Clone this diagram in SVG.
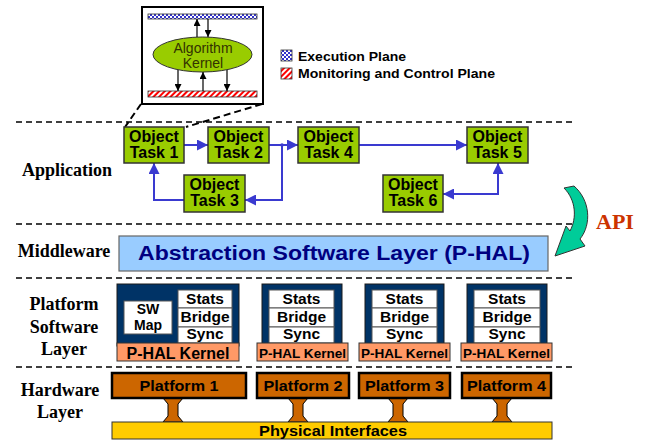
<svg xmlns="http://www.w3.org/2000/svg" width="645" height="444" viewBox="0 0 645 444">
  <defs>
    <pattern id="checker" width="4" height="4" patternUnits="userSpaceOnUse">
      <rect width="4" height="4" fill="#ffffff"/>
      <rect width="2" height="2" fill="#3333cc"/>
      <rect x="2" y="2" width="2" height="2" fill="#3333cc"/>
    </pattern>
    <pattern id="hatch" width="4" height="4" patternUnits="userSpaceOnUse" patternTransform="rotate(45)">
      <rect width="4" height="4" fill="#ffffff"/>
      <rect width="2" height="4" fill="#ff0000"/>
    </pattern>
    <marker id="blueHead" viewBox="0 0 10 10" refX="10" refY="5" markerWidth="11" markerHeight="11" markerUnits="userSpaceOnUse" orient="auto-start-reverse">
      <path d="M0,0 L10,5 L0,10 z" fill="#3a3ad0"/>
    </marker>
    <marker id="blackHead" viewBox="0 0 10 10" refX="10" refY="5" markerWidth="7" markerHeight="7" markerUnits="userSpaceOnUse" orient="auto-start-reverse">
      <path d="M0,0 L10,5 L0,10 z" fill="#000000"/>
    </marker>
    <style>
      .sep { stroke:#000; stroke-width:1.5; stroke-dasharray:6 4; fill:none; }
      .layer { font-family:"Liberation Serif","Times New Roman",serif; font-weight:bold; font-size:18px; fill:#000; text-anchor:middle; }
      .sans { font-family:"Liberation Sans",Arial,sans-serif; font-weight:bold; fill:#000; text-anchor:middle; }
      .task rect { fill:#99cc00; stroke:#333; stroke-width:1.5; }
      .task text { font-family:"Liberation Sans",Arial,sans-serif; font-weight:bold; font-size:16px; fill:#000; text-anchor:middle; }
      .flow { stroke:#3a3ad0; stroke-width:2; fill:none; }
      .ctl { stroke:#000; stroke-width:1.2; fill:none; marker-end:url(#blackHead); }
      .navy { fill:#003366; stroke:#1a1a1a; stroke-width:1; }
      .cell { fill:#ffffff; stroke:#555; stroke-width:1; }
      .cell-t { font-size:15.5px; }
      .kernel { fill:#ff9966; stroke:#333; stroke-width:1; }
      .plat { fill:#cc6600; stroke:#000; stroke-width:2.5; }
      .dbl { fill:#cc6600; stroke:#000; stroke-width:1; }
    </style>
  </defs>

  <rect width="645" height="444" fill="#ffffff"/>

  <!-- layer separators -->
  <g id="separators">
    <line class="sep" x1="16" y1="122" x2="575" y2="122"/>
    <line class="sep" x1="16" y1="224" x2="575" y2="224"/>
    <line class="sep" x1="16" y1="278" x2="575" y2="278"/>
    <line class="sep" x1="16" y1="367" x2="575" y2="367"/>
  </g>

  <!-- layer names -->
  <g id="layer-labels">
    <text class="layer" x="67" y="176">Application</text>
    <text class="layer" x="64" y="257">Middleware</text>
    <text class="layer" x="64" y="310">Platform</text>
    <text class="layer" x="64" y="333">Software</text>
    <text class="layer" x="64" y="355">Layer</text>
    <text class="layer" x="60" y="396">Hardware</text>
    <text class="layer" x="60" y="418">Layer</text>
  </g>

  <!-- detail of one object task -->
  <g id="task-detail">
    <rect x="142" y="7" width="121" height="97" fill="#ffffff" stroke="#000" stroke-width="2"/>
    <rect x="148" y="14" width="109" height="5" fill="url(#checker)" stroke="#333" stroke-width="0.8"/>
    <rect x="148" y="91" width="109" height="6" fill="url(#hatch)" stroke="#333" stroke-width="0.8"/>
    <ellipse cx="202.5" cy="54.5" rx="49.5" ry="17.5" fill="#99cc00" stroke="#333" stroke-width="1"/>
    <text x="203" y="53" font-family="'Liberation Sans',Arial,sans-serif" font-size="14" fill="#333300" text-anchor="middle">Algorithm</text>
    <text x="203" y="68" font-family="'Liberation Sans',Arial,sans-serif" font-size="14" fill="#333300" text-anchor="middle">Kernel</text>
    <line class="ctl" x1="197" y1="37" x2="197" y2="19"/>
    <line class="ctl" x1="208" y1="19" x2="208" y2="37"/>
    <line class="ctl" x1="178" y1="70" x2="178" y2="91"/>
    <line class="ctl" x1="203" y1="91" x2="203" y2="72"/>
    <line class="ctl" x1="227" y1="70" x2="227" y2="91"/>
  </g>

  <!-- legend -->
  <g id="legend">
    <rect x="281" y="50" width="11" height="11" fill="url(#checker)" stroke="#333" stroke-width="0.8"/>
    <text class="sans" x="298" y="61" font-size="13" style="text-anchor:start" textLength="108" lengthAdjust="spacingAndGlyphs">Execution Plane</text>
    <rect x="281" y="68" width="11" height="11" fill="url(#hatch)" stroke="#333" stroke-width="0.8"/>
    <text class="sans" x="298" y="78" font-size="13" style="text-anchor:start" textLength="197" lengthAdjust="spacingAndGlyphs">Monitoring and Control Plane</text>
  </g>

  <!-- zoom lines from task 1 to its detail -->
  <g id="detail-link" stroke="#000" stroke-width="2" stroke-dasharray="7 4" fill="none">
    <line x1="141" y1="104" x2="125" y2="127"/>
    <line x1="262" y1="104" x2="186" y2="127"/>
  </g>

  <!-- connectors between object tasks -->
  <g id="connectors">
    <path class="flow" d="M184,145 H208" marker-end="url(#blueHead)"/>
    <path class="flow" d="M269,145 H298" marker-end="url(#blueHead)"/>
    <path class="flow" d="M282,145 V200 H245" marker-end="url(#blueHead)"/>
    <path class="flow" d="M184,200 H154 V163" marker-end="url(#blueHead)"/>
    <path class="flow" d="M359,145 H467" marker-end="url(#blueHead)"/>
    <path class="flow" d="M443,194 H498 V163" marker-start="url(#blueHead)" marker-end="url(#blueHead)"/>
    <circle cx="282" cy="145" r="1.8" fill="#3a3ad0"/>
  </g>

  <!-- object tasks -->
  <g id="task1" class="task">
    <rect x="124" y="127" width="60" height="36"/>
    <text x="154" y="142">Object</text>
    <text x="154" y="158">Task 1</text>
  </g>
  <g id="task2" class="task">
    <rect x="208" y="127" width="61" height="36"/>
    <text x="238.5" y="142">Object</text>
    <text x="238.5" y="158">Task 2</text>
  </g>
  <g id="task3" class="task">
    <rect x="184" y="175" width="61" height="37"/>
    <text x="214.5" y="190">Object</text>
    <text x="214.5" y="206">Task 3</text>
  </g>
  <g id="task4" class="task">
    <rect x="298" y="127" width="61" height="36"/>
    <text x="328.5" y="142">Object</text>
    <text x="328.5" y="158">Task 4</text>
  </g>
  <g id="task5" class="task">
    <rect x="467" y="127" width="61" height="36"/>
    <text x="497.5" y="142">Object</text>
    <text x="497.5" y="158">Task 5</text>
  </g>
  <g id="task6" class="task">
    <rect x="383" y="175" width="60" height="37"/>
    <text x="413" y="190">Object</text>
    <text x="413" y="206">Task 6</text>
  </g>

  <!-- API arrow -->
  <g id="api">
    <path d="M564,188 L574,186 C590,200 592,224 580,239 L585,246 L555,256 L566,226 L570,231 C577,218 576,200 564,188 Z" fill="#00cc99" stroke="#333" stroke-width="1"/>
    <text x="596" y="229" font-family="'Liberation Serif','Times New Roman',serif" font-weight="bold" font-size="22" fill="#cc3300">API</text>
  </g>

  <!-- middleware -->
  <g id="p-hal">
    <rect x="119" y="236" width="429" height="35" fill="#99ccff" stroke="#666" stroke-width="1.2"/>
    <text class="sans" x="334" y="260" font-size="20" style="fill:#000080" textLength="392" lengthAdjust="spacingAndGlyphs">Abstraction Software Layer (P-HAL)</text>
  </g>

  <!-- platform software blocks -->
  <g id="psw1">
    <rect class="navy" x="117" y="284" width="122" height="62"/>
    <rect class="cell" x="124" y="301" width="48" height="33"/>
    <text class="sans" x="148" y="314" font-size="14">SW</text>
    <text class="sans" x="148" y="330" font-size="14">Map</text>
    <rect class="cell" x="178" y="290" width="54" height="18"/>
    <rect class="cell" x="178" y="308" width="54" height="19"/>
    <rect class="cell" x="178" y="327" width="54" height="16"/>
    <text class="sans cell-t" x="205" y="304">Stats</text>
    <text class="sans cell-t" x="205" y="322">Bridge</text>
    <text class="sans cell-t" x="205" y="339">Sync</text>
    <rect class="kernel" x="117" y="343" width="122" height="18"/>
    <text class="sans" x="178" y="359" font-size="16">P-HAL Kernel</text>
  </g>
  <g id="psw2">
    <rect class="navy" x="262" y="284" width="80" height="62"/>
    <rect class="cell" x="269" y="290" width="65" height="18"/>
    <rect class="cell" x="269" y="308" width="65" height="19"/>
    <rect class="cell" x="269" y="327" width="65" height="16"/>
    <text class="sans cell-t" x="301.5" y="304">Stats</text>
    <text class="sans cell-t" x="301.5" y="322">Bridge</text>
    <text class="sans cell-t" x="301.5" y="339">Sync</text>
    <rect class="kernel" x="257" y="343" width="91" height="18"/>
    <text class="sans" x="302.5" y="358" font-size="13" textLength="87" lengthAdjust="spacingAndGlyphs">P-HAL Kernel</text>
  </g>
  <g id="psw3">
    <rect class="navy" x="365" y="284" width="79" height="62"/>
    <rect class="cell" x="372" y="290" width="65" height="18"/>
    <rect class="cell" x="372" y="308" width="65" height="19"/>
    <rect class="cell" x="372" y="327" width="65" height="16"/>
    <text class="sans cell-t" x="404.5" y="304">Stats</text>
    <text class="sans cell-t" x="404.5" y="322">Bridge</text>
    <text class="sans cell-t" x="404.5" y="339">Sync</text>
    <rect class="kernel" x="359" y="343" width="91" height="18"/>
    <text class="sans" x="404.5" y="358" font-size="13" textLength="87" lengthAdjust="spacingAndGlyphs">P-HAL Kernel</text>
  </g>
  <g id="psw4">
    <rect class="navy" x="467" y="284" width="80" height="62"/>
    <rect class="cell" x="474" y="290" width="66" height="18"/>
    <rect class="cell" x="474" y="308" width="66" height="19"/>
    <rect class="cell" x="474" y="327" width="66" height="16"/>
    <text class="sans cell-t" x="507" y="304">Stats</text>
    <text class="sans cell-t" x="507" y="322">Bridge</text>
    <text class="sans cell-t" x="507" y="339">Sync</text>
    <rect class="kernel" x="461" y="343" width="91" height="18"/>
    <text class="sans" x="506.5" y="358" font-size="13" textLength="87" lengthAdjust="spacingAndGlyphs">P-HAL Kernel</text>
  </g>

  <!-- hardware links -->
  <g id="hw-links">
    <polygon class="dbl" points="163,398 183,398 178,404 178,416 183,422 163,422 168,416 168,404"/>
    <polygon class="dbl" points="288,398 308,398 303,404 303,416 308,422 288,422 293,416 293,404"/>
    <polygon class="dbl" points="388,398 408,398 403,404 403,416 408,422 388,422 393,416 393,404"/>
    <polygon class="dbl" points="492,398 512,398 507,404 507,416 512,422 492,422 497,416 497,404"/>
  </g>

  <!-- platforms -->
  <g id="platform1">
    <rect class="plat" x="112" y="373" width="134" height="25"/>
    <text class="sans" x="179" y="391" font-size="15" textLength="79" lengthAdjust="spacingAndGlyphs">Platform 1</text>
  </g>
  <g id="platform2">
    <rect class="plat" x="257" y="373" width="92" height="25"/>
    <text class="sans" x="303" y="391" font-size="15" textLength="79" lengthAdjust="spacingAndGlyphs">Platform 2</text>
  </g>
  <g id="platform3">
    <rect class="plat" x="359" y="373" width="91" height="25"/>
    <text class="sans" x="404.5" y="391" font-size="15" textLength="79" lengthAdjust="spacingAndGlyphs">Platform 3</text>
  </g>
  <g id="platform4">
    <rect class="plat" x="462" y="373" width="89" height="25"/>
    <text class="sans" x="506.5" y="391" font-size="15" textLength="79" lengthAdjust="spacingAndGlyphs">Platform 4</text>
  </g>

  <g id="physical-interfaces">
    <rect x="112" y="422" width="440" height="17" fill="#ffcc00" stroke="#333" stroke-width="1"/>
    <text class="sans" x="333" y="436" font-size="15" textLength="148" lengthAdjust="spacingAndGlyphs">Physical Interfaces</text>
  </g>
</svg>
